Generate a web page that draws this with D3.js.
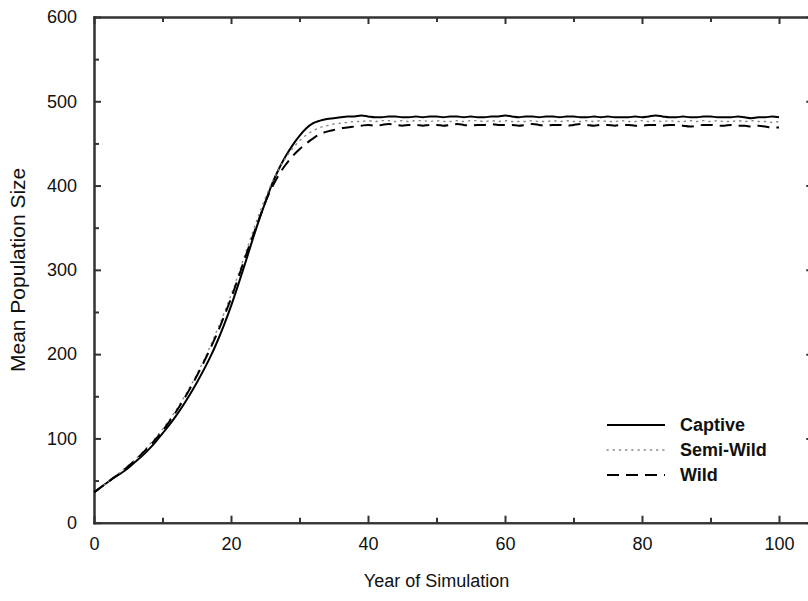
<!DOCTYPE html>
<html>
<head>
<meta charset="utf-8">
<script src="https://cdn.jsdelivr.net/npm/d3@7.9.0/dist/d3.min.js"></script>
<style>
  body { margin: 0; background: #fff; }
  svg { display: block; font-family: "Liberation Sans", Arial, sans-serif; }
</style>
</head>
<body>
<svg id="chart" width="808" height="601"></svg>
<script>
// year of simulation 0..100
const years = d3.range(0, 101);

const captive = [
  36, 42, 48, 54, 59, 65, 72, 79, 87, 96,
  106, 116, 127, 139, 152, 166, 181, 197, 215, 235,
  257, 281, 306, 332, 357, 380, 402, 420, 435, 448,
  459, 468, 474, 477, 479, 480, 481, 482, 482, 483,
  482, 481, 481, 482, 482, 481, 481, 482, 481, 482,
  482, 481, 482, 482, 481, 482, 481, 481, 482, 482,
  483, 482, 481, 482, 482, 481, 482, 482, 481, 482,
  482, 481, 481, 482, 481, 482, 481, 481, 481, 482,
  481, 482, 483, 482, 481, 481, 482, 481, 481, 482,
  482, 481, 481, 481, 482, 481, 480, 481, 481, 482, 481
];

const semiWild = [
  36, 42, 48, 55, 61, 68, 75, 83, 92, 101,
  111, 122, 134, 147, 161, 176, 192, 210, 229, 249,
  270, 293, 317, 341, 364, 385, 404, 420, 433, 444,
  453, 460, 465, 469, 471, 473, 474, 475, 476, 476,
  477, 476, 477, 477, 476, 477, 476, 477, 477, 476,
  477, 476, 476, 477, 476, 477, 477, 476, 477, 476,
  477, 476, 476, 476, 477, 476, 476, 477, 476, 477,
  476, 476, 477, 476, 477, 476, 476, 477, 476, 476,
  477, 476, 477, 476, 477, 476, 476, 477, 476, 477,
  476, 477, 476, 476, 477, 476, 477, 476, 476, 475, 476
];

const wild = [
  36, 42, 48, 54, 60, 67, 74, 82, 90, 99,
  109, 120, 132, 145, 159, 174, 190, 207, 225, 245,
  266, 289, 313, 336, 358, 380, 398, 413, 425, 435,
  443, 450, 456, 461, 464, 466, 468, 469, 470, 471,
  472, 471, 472, 473, 472, 471, 472, 472, 471, 472,
  472, 471, 472, 473, 472, 471, 472, 472, 473, 472,
  472, 472, 471, 472, 473, 472, 471, 472, 472, 471,
  472, 473, 472, 471, 472, 472, 471, 472, 472, 471,
  471, 472, 472, 471, 472, 472, 471, 470, 471, 472,
  472, 471, 471, 472, 471, 471, 470, 471, 470, 469, 469
];

const seriesNames = ["Captive", "Semi-Wild", "Wild"];
const xMajor = [0, 20, 40, 60, 80, 100];
const xMinor = [10, 30, 50, 70, 90];
const yMajor = [0, 100, 200, 300, 400, 500, 600];
const yMinor = [50, 150, 250, 350, 450, 550];

const styles = {
  "Captive":   { stroke: "#000", width: 2, dash: null },
  "Semi-Wild": { stroke: "#888", width: 1.4, dash: "1.2,5" },
  "Wild":      { stroke: "#000", width: 2, dash: "12,7" }
};

const svg = d3.select("#chart");
const plotL = 94, plotR = 813.25, plotT = 17, plotB = 522.7;

const x = d3.scaleLinear().domain([0, 105]).range([plotL, plotR]);
const y = d3.scaleLinear().domain([0, 600]).range([plotB, plotT]);

const axisColor = "#333";

function drawAxis(gen, tx, ty) {
  const g = svg.append("g").attr("transform", `translate(${tx},${ty})`).call(gen);
  g.selectAll("path, line").attr("stroke", axisColor).attr("stroke-width", 2);
  g.select(".domain").attr("stroke-linecap", "square");
  g.selectAll("text").attr("font-size", 18).attr("fill", "#111")
    .attr("font-family", '"Liberation Sans", Arial, sans-serif');
  return g;
}

// bottom
drawAxis(d3.axisBottom(x).tickValues(xMajor).tickSizeInner(-7).tickSizeOuter(0).tickPadding(15), 0, plotB);
drawAxis(d3.axisBottom(x).tickValues(xMinor).tickSizeInner(-5).tickSizeOuter(0).tickFormat(""), 0, plotB);
// top
drawAxis(d3.axisTop(x).tickValues(xMajor).tickSizeInner(-7).tickSizeOuter(0).tickFormat(""), 0, plotT);
drawAxis(d3.axisTop(x).tickValues(xMinor).tickSizeInner(-5).tickSizeOuter(0).tickFormat(""), 0, plotT);
// left
drawAxis(d3.axisLeft(y).tickValues(yMajor).tickSizeInner(-7).tickSizeOuter(0).tickPadding(17), plotL, 0);
drawAxis(d3.axisLeft(y).tickValues(yMinor).tickSizeInner(-5).tickSizeOuter(0).tickFormat(""), plotL, 0);
// right
drawAxis(d3.axisRight(y).tickValues(yMajor).tickSizeInner(-7).tickSizeOuter(0).tickFormat(""), plotR, 0);
drawAxis(d3.axisRight(y).tickValues(yMinor).tickSizeInner(-5).tickSizeOuter(0).tickFormat(""), plotR, 0);

// axis titles
svg.append("text")
  .attr("x", (x(0) + x(100)) / 2)
  .attr("y", 587)
  .attr("text-anchor", "middle")
  .attr("font-size", 18)
  .attr("fill", "#111")
  .text("Year of Simulation");

svg.append("text")
  .attr("transform", `translate(25,${(plotT + plotB) / 2}) rotate(-90)`)
  .attr("text-anchor", "middle")
  .attr("font-size", 21)
  .attr("fill", "#111")
  .text("Mean Population Size");

// lines
const line = d3.line()
  .x((d, i) => x(years[i]))
  .y(d => y(d))
  .curve(d3.curveMonotoneX);

const seriesData = [captive, semiWild, wild];
seriesNames.forEach((name, i) => {
  const s = styles[name];
  svg.append("path")
    .datum(seriesData[i])
    .attr("d", line)
    .attr("fill", "none")
    .attr("stroke", s.stroke)
    .attr("stroke-width", s.width)
    .attr("stroke-dasharray", s.dash)
    .attr("stroke-linecap", s.dash === "1.2,5" ? "round" : "butt");
});

// legend
const legend = svg.append("g").attr("transform", "translate(607,425)");
seriesNames.forEach((name, i) => {
  const s = styles[name];
  const row = legend.append("g").attr("transform", `translate(0,${i * 25})`);
  row.append("line")
    .attr("x1", 0).attr("x2", 58)
    .attr("stroke", s.stroke)
    .attr("stroke-width", s.width)
    .attr("stroke-dasharray", s.dash)
    .attr("stroke-linecap", s.dash === "1.2,5" ? "round" : "butt");
  row.append("text")
    .attr("x", 73)
    .attr("dy", "0.35em")
    .attr("font-size", 18)
    .attr("font-weight", "bold")
    .attr("fill", "#111")
    .text(name);
});
</script>
</body>
</html>
